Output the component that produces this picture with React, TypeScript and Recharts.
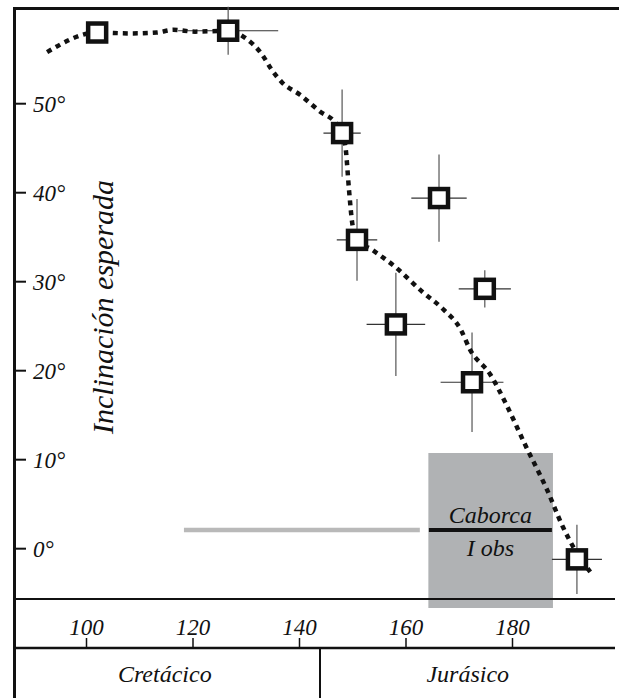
import React from "react";
import {
  ComposedChart,
  Line,
  Scatter,
  ErrorBar,
  XAxis,
  YAxis,
  ReferenceArea,
  ReferenceLine,
} from "recharts";

// dotted reference path (age Ma, expected inclination)
const curveAge = [92.6, 102.0, 108.2, 113.2, 116.3, 120.4, 126.6, 129.8, 133.0, 134.8, 136.7, 140.1, 143.9, 146.7, 148.0, 148.7, 149.3, 149.9, 150.8, 153.6, 157.9, 163.2, 167.0, 170.3, 172.0, 175.8, 179.0, 182.2, 186.5, 189.5, 191.4, 194.6];
const curveInc = [55.8, 58.0, 57.9, 58.0, 58.3, 58.1, 58.2, 57.4, 55.5, 53.8, 52.4, 51.0, 49.1, 47.9, 46.7, 44.8, 40.3, 36.6, 34.7, 33.6, 31.7, 28.8, 26.9, 24.6, 22.4, 19.6, 16.0, 11.9, 6.6, 2.4, 0.2, -2.6];

// poles with error crosses
const poleAge = [102.0, 126.6, 148.0, 150.8, 158.1, 166.2, 172.4, 174.8, 192.1];
const poleInc = [58.0, 58.2, 46.7, 34.7, 25.2, 39.4, 18.7, 29.2, -1.2];
const poleAgeErr = [0, 9.4, 3.5, 3.8, 5.5, 5.2, 5.9, 4.9, 4.7];
const poleIncErr = [0, 2.7, 4.9, 4.6, 5.8, 4.9, 5.6, 2.1, 3.9];

const ageTicks = [100, 120, 140, 160, 180];
const incTicks = [0, 10, 20, 30, 40, 50];
const ageDomain = [86.76, 199.25];
const incDomain = [-11.16, 60.53];

// observed Caborca inclination
const caborcaAge = [164.2, 187.6];
const caborcaInc = [-6.66, 10.75];
const caborcaObs = 2.1;
const caborcaLine = [164.3, 187.4];
const projLine = [118.3, 162.6];
const frameInc = -5.65;

const periodNames = ["Cretácico", "Jurásico"];
const periodCenters = [114.7, 171.6];
const periodBoundary = 143.85;

const curve = curveAge.map((x, i) => ({ x, y: curveInc[i] }));
const poles = poleAge.map((x, i) => ({ x, y: poleInc[i], ex: poleAgeErr[i], ey: poleIncErr[i] }));

const serif = "Liberation Serif, Times New Roman, Times, serif";
const ink = "#111";

const tickFont = { fontFamily: serif, fontStyle: "italic", fontSize: 23, fill: ink };

function Square(props: any) {
  const { cx, cy } = props;
  if (cx == null || cy == null) return null;
  return <rect x={cx - 9} y={cy - 9} width={18} height={18} fill="#fff" stroke={ink} strokeWidth={4.5} />;
}

function Nothing() {
  return null;
}

function PeriodTick(props: any) {
  const { x, y, payload } = props;
  const v = payload.value;
  if (Math.abs(v - periodBoundary) < 0.01) {
    return <line x1={x} x2={x} y1={y} y2={y + 52} stroke={ink} strokeWidth={2} />;
  }
  const idx = periodCenters.findIndex((c) => Math.abs(c - v) < 0.01);
  return (
    <text x={x} y={y + 34} textAnchor="middle" style={{ fontFamily: serif, fontStyle: "italic", fontSize: 24 }} fill={ink}>
      {periodNames[idx]}
    </text>
  );
}

function YTitle(props: any) {
  const vb = props.viewBox || { x: 16, y: 10, height: 638 };
  const cx = vb.x + 97;
  const cy = vb.y + vb.height / 2 - 22;
  return (
    <text
      transform={`translate(${cx},${cy}) rotate(-90)`}
      textAnchor="middle"
      style={{ fontFamily: serif, fontStyle: "italic", fontSize: 30 }}
      fill={ink}
    >
      Inclinación esperada
    </text>
  );
}

export default function App() {
  return (
    <div
      style={{
        position: "absolute",
        left: 0,
        top: 0,
        width: 619,
        height: 698,
        background: "#fff",
        fontFamily: serif,
        fontStyle: "italic",
      }}
    >
      <div
        style={{
          position: "absolute",
          left: 13,
          top: 7,
          right: 0,
          bottom: 0,
          borderLeft: `3px solid ${ink}`,
          borderTop: `3px solid ${ink}`,
        }}
      />
      <div style={{ position: "absolute", left: 0, top: 0 }}>
        <ComposedChart width={619} height={698} margin={{ top: 10, left: 16, right: 4, bottom: 0 }}>
          <XAxis
            xAxisId={0}
            type="number"
            dataKey="x"
            domain={ageDomain}
            allowDataOverflow
            ticks={ageTicks}
            interval={0}
            orientation="bottom"
            mirror
            height={40}
            tickSize={10}
            tickMargin={3}
            axisLine={{ stroke: ink, strokeWidth: 2.5 }}
            tickLine={{ stroke: ink, strokeWidth: 1.5 }}
            tick={tickFont}
          />
          <XAxis
            xAxisId="period"
            type="number"
            dataKey="x"
            domain={ageDomain}
            allowDataOverflow
            ticks={[...periodCenters, periodBoundary]}
            interval={0}
            orientation="bottom"
            height={50}
            tickSize={0}
            tickMargin={0}
            axisLine={false}
            tickLine={false}
            tick={<PeriodTick />}
          />
          <YAxis
            type="number"
            dataKey="y"
            domain={incDomain}
            allowDataOverflow
            ticks={incTicks}
            interval={0}
            mirror
            width={60}
            tickSize={10}
            tickMargin={7}
            axisLine={false}
            tickLine={{ stroke: ink, strokeWidth: 2 }}
            tick={tickFont}
            tickFormatter={(v: number) => `${v}°`}
            label={{ value: "Inclinación esperada", content: (p: any) => <YTitle {...p} /> }}
          />
          <ReferenceArea
            x1={caborcaAge[0]}
            x2={caborcaAge[1]}
            y1={caborcaInc[0]}
            y2={caborcaInc[1]}
            fill="#b0b2b4"
            fillOpacity={1}
            stroke="none"
          />
          <ReferenceLine y={frameInc} stroke={ink} strokeWidth={2} />
          <ReferenceLine
            segment={[
              { x: projLine[0], y: caborcaObs },
              { x: projLine[1], y: caborcaObs },
            ]}
            stroke="#b9b9b9"
            strokeWidth={4.5}
          />
          <ReferenceLine
            segment={[
              { x: caborcaLine[0], y: caborcaObs },
              { x: caborcaLine[1], y: caborcaObs },
            ]}
            stroke={ink}
            strokeWidth={4}
            label={{ value: "Caborca", position: "top", offset: 7, fontFamily: serif, fontStyle: "italic", fontSize: 24, fill: ink }}
          />
          <ReferenceLine
            segment={[
              { x: caborcaLine[0], y: caborcaObs },
              { x: caborcaLine[1], y: caborcaObs },
            ]}
            stroke="none"
            label={{ value: "I obs", position: "bottom", offset: 9, fontFamily: serif, fontStyle: "italic", fontSize: 24, fill: ink }}
          />
          <Scatter data={poles} dataKey="y" shape={<Nothing />} isAnimationActive={false}>
            <ErrorBar dataKey="ex" direction="x" width={0} stroke="#333" strokeWidth={1.2} isAnimationActive={false} />
            <ErrorBar dataKey="ey" direction="y" width={0} stroke="#555" strokeWidth={1.2} isAnimationActive={false} />
          </Scatter>
          <Line
            data={curve}
            dataKey="y"
            type="monotone"
            stroke={ink}
            strokeWidth={4.5}
            strokeDasharray="5 5"
            dot={false}
            activeDot={false}
            isAnimationActive={false}
          />
          <Scatter data={poles} dataKey="y" shape={<Square />} isAnimationActive={false} />
        </ComposedChart>
      </div>
    </div>
  );
}
